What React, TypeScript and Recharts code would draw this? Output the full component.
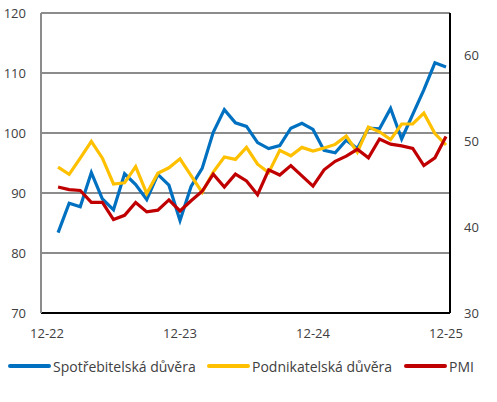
import { LineChart, Line, XAxis, YAxis, CartesianGrid } from "recharts";

// months 12-22 .. 12-25, first month has no data
const months = [
    "12-22", "1-23", "2-23", "3-23", "4-23", "5-23", "6-23", "7-23", "8-23", "9-23", "10-23", "11-23",
    "12-23", "1-24", "2-24", "3-24", "4-24", "5-24", "6-24", "7-24", "8-24", "9-24", "10-24", "11-24",
    "12-24", "1-25", "2-25", "3-25", "4-25", "5-25", "6-25", "7-25", "8-25", "9-25", "10-25", "11-25",
    "12-25",
];

const spotrebitelska = [
    null, 83.4, 88.3, 87.7, 93.4, 89.0, 87.2, 93.2, 91.4, 88.9, 93.1, 91.3, 85.4,
    91.1, 94.1, 100.1, 103.9, 101.7, 101.1, 98.4, 97.4, 97.9, 100.8, 101.6, 100.6,
    97.1, 96.7, 98.8, 97.4, 100.8, 100.7, 104.1, 99.0, 103.1, 107.2, 111.7, 111.0,
];

const podnikatelska = [
    null, 94.3, 93.1, 95.8, 98.6, 95.8, 91.5, 91.7, 94.4, 89.9, 93.3, 94.2, 95.7,
    92.9, 90.1, 93.5, 96.0, 95.6, 97.6, 94.8, 93.4, 97.1, 96.2, 97.6, 97.0,
    97.5, 98.1, 99.5, 96.8, 101.0, 100.2, 98.9, 101.5, 101.5, 103.3, 99.9, 98.0,
];

const pmi = [
    null, 44.7, 44.4, 44.3, 42.9, 42.9, 40.9, 41.4, 42.9, 41.8, 42.0, 43.2, 41.9,
    43.1, 44.2, 46.2, 44.7, 46.2, 45.4, 43.8, 46.7, 46.1, 47.2, 46.0, 44.8,
    46.7, 47.7, 48.3, 49.1, 48.1, 50.3, 49.7, 49.5, 49.2, 47.2, 48.1, 50.6,
];

const leftTicks = [70, 80, 90, 100, 110, 120];
const rightTicks = [30, 40, 50, 60];

const series = [
    { key: "spot", name: "Spotřebitelská důvěra", color: "#0070C0", axis: "left", left: 8 },
    { key: "podn", name: "Podnikatelská důvěra", color: "#FFC000", axis: "left", left: 207 },
    { key: "pmi", name: "PMI", color: "#C00000", axis: "right", left: 404 },
];

const data = months.map((m, i) => ({
    month: m,
    spot: spotrebitelska[i],
    podn: podnikatelska[i],
    pmi: pmi[i],
}));

const FONT = "'Open Sans', sans-serif";
const tickStyle = { fill: "#404040", fontSize: 13, fontFamily: FONT };

const App = () => {
    return (
        <div style={{ position: "absolute", left: 0, top: 0, width: 497, height: 402, background: "#fff", fontFamily: FONT }}>
            <LineChart width={497} height={350} data={data} margin={{ top: 13, right: 0, bottom: 7, left: 0 }}>
                <CartesianGrid yAxisId="left" vertical={false} stroke="#8c8c8c" strokeWidth={2} />
                <XAxis
                    dataKey="month"
                    interval={11}
                    tickLine={false}
                    tickSize={0}
                    tickMargin={16}
                    height={30}
                    padding={{ left: 6, right: 4 }}
                    axisLine={{ stroke: "#000", strokeWidth: 2 }}
                    tick={tickStyle}
                />
                <YAxis
                    yAxisId="left"
                    domain={[70, 120]}
                    ticks={leftTicks}
                    tickLine={false}
                    tickSize={0}
                    tickMargin={15}
                    width={41}
                    axisLine={{ stroke: "#8c8c8c", strokeWidth: 2 }}
                    tick={tickStyle}
                />
                <YAxis
                    yAxisId="right"
                    orientation="right"
                    domain={[30, 65]}
                    ticks={rightTicks}
                    tickLine={false}
                    tickSize={0}
                    tickMargin={14}
                    width={47}
                    axisLine={{ stroke: "#000", strokeWidth: 2 }}
                    tick={tickStyle}
                />
                {series.map(s => (
                    <Line
                        key={s.key}
                        yAxisId={s.axis}
                        dataKey={s.key}
                        name={s.name}
                        stroke={s.color}
                        strokeWidth={3.2}
                        dot={false}
                        activeDot={false}
                        isAnimationActive={false}
                    />
                ))}
            </LineChart>
            {series.map(s => (
                <div key={s.key} style={{ position: "absolute", left: s.left, top: 356, display: "flex", alignItems: "center", height: 20 }}>
                    <div style={{ width: 43, height: 4, borderRadius: 2, background: s.color, marginRight: 2 }} />
                    <span style={{ fontSize: 14, color: "#404040", whiteSpace: "nowrap" }}>{s.name}</span>
                </div>
            ))}
        </div>
    );
};

export default App;
